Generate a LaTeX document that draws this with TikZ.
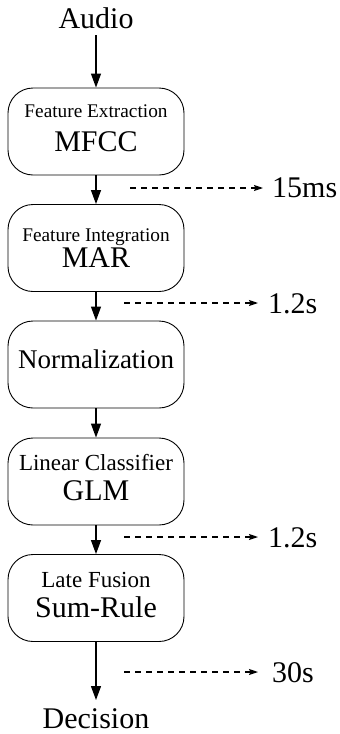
\documentclass[tikz,border=0pt]{standalone}
\usepackage{fontspec}
\setmainfont{Liberation Serif}
\usetikzlibrary{arrows.meta}
\newcommand{\fsz}[1]{\fontsize{#1}{#1}\selectfont}
\begin{document}
\begin{tikzpicture}[x=1pt,y=-1pt,
  box/.style={draw,line width=0.9pt,rounded corners=25pt,minimum width=176pt,minimum height=87pt,inner sep=0pt},
  txt/.style={anchor=base,inner sep=0pt},
  arr/.style={line width=1.3pt,-{Triangle[length=14pt,width=10pt]}},
  darr/.style={line width=1.2pt,dash pattern=on 6pt off 5pt,-{Stealth[length=9pt,width=6pt,inset=1.5pt]}}]
\useasboundingbox (0,0) rectangle (340,734);
% input / output
\node[txt,font=\fsz{30}] (audio) at (96,28) {Audio};
\node[txt,font=\fsz{30}] (decision) at (96,728) {Decision};
% boxes
\node[box] (b1) at (96,131.5) {};
\node[box] (b2) at (96,248) {};
\node[box] (b3) at (96,364.5) {};
\node[box] (b4) at (96,481.5) {};
\node[box] (b5) at (96,598) {};
% box texts
\node[txt,font=\fsz{19.3}] (b1a) at (96,117) {Feature Extraction};
\node[txt,font=\fsz{30}] (b1b) at (96,151) {MFCC};
\node[txt,font=\fsz{19.3}] (b2a) at (96,241) {Feature Integration};
\node[txt,font=\fsz{30}] (b2b) at (96,267) {MAR};
\node[txt,font=\fsz{27}] (b3a) at (96,368) {Normalization};
\node[txt,font=\fsz{23}] (b4a) at (96,470) {Linear Classifier};
\node[txt,font=\fsz{30}] (b4b) at (96,500) {GLM};
\node[txt,font=\fsz{23}] (b5a) at (96,587) {Late Fusion};
\node[txt,font=\fsz{30}] (b5b) at (96,617) {Sum-Rule};
% vertical arrows
\coordinate (a0) at (96,35);
\draw[arr] (a0) -- (b1.north);
\draw[arr] (b1.south) -- (b2.north);
\draw[arr] (b2.south) -- (b3.north);
\draw[arr] (b3.south) -- (b4.north);
\draw[arr] (b4.south) -- (b5.north);
\coordinate (a6) at (96,700);
\draw[arr] (b5.south) -- (a6);
% timing labels
\node[txt,anchor=base west,font=\fsz{30}] (t1) at (272,197) {15ms};
\node[txt,anchor=base west,font=\fsz{30}] (t2) at (268,313) {1.2s};
\node[txt,anchor=base west,font=\fsz{30}] (t3) at (268,547) {1.2s};
\node[txt,anchor=base west,font=\fsz{30}] (t4) at (272,682) {30s};
\coordinate (d1) at (130,188);
\coordinate (e1) at (263,188);
\coordinate (d2) at (124,303);
\coordinate (e2) at (258,303);
\coordinate (d3) at (124,537);
\coordinate (e3) at (258,537);
\coordinate (d4) at (124,672);
\coordinate (e4) at (258,672);
\draw[darr] (d1) -- (e1);
\draw[darr] (d2) -- (e2);
\draw[darr] (d3) -- (e3);
\draw[darr] (d4) -- (e4);
\end{tikzpicture}
\end{document}
